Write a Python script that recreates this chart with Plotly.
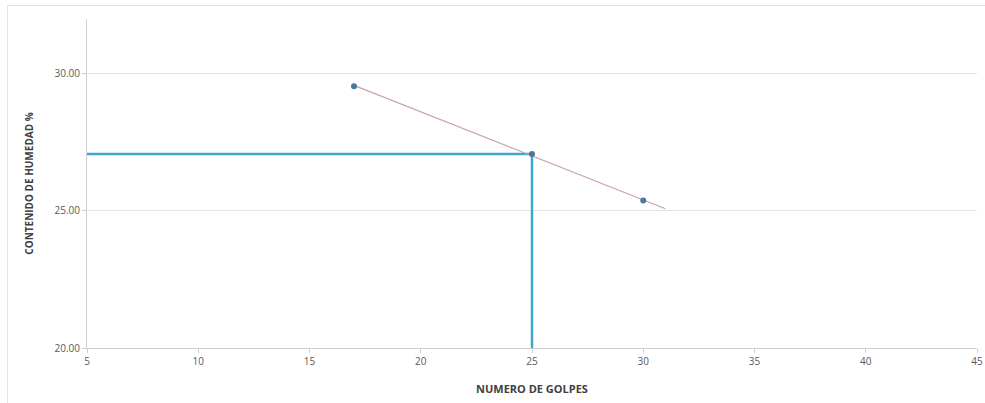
import plotly.graph_objects as go

golpes = [17, 25, 30]
humedad = [29.55, 27.08, 25.38]

trend_x = [17, 31]
trend_y = [29.58, 25.08]

ref_golpes = 25
ref_humedad = 27.08

x_ticks = [5, 10, 15, 20, 25, 30, 35, 40, 45]
y_ticks = [20, 25, 30]

fig = go.Figure()

fig.add_trace(go.Scatter(x=[x_ticks[0], ref_golpes], y=[ref_humedad, ref_humedad], mode="lines",
                         line=dict(color="#3ea6cc", width=2.5), hoverinfo="skip", showlegend=False))
fig.add_trace(go.Scatter(x=[ref_golpes, ref_golpes], y=[y_ticks[0], ref_humedad], mode="lines",
                         line=dict(color="#3ea6cc", width=2.5), hoverinfo="skip", showlegend=False))
fig.add_trace(go.Scatter(x=trend_x, y=trend_y, mode="lines",
                         line=dict(color="#c9a3a8", width=1.2), showlegend=False))
fig.add_trace(go.Scatter(x=golpes, y=humedad, mode="markers",
                         marker=dict(color="#4a78a0", size=6), showlegend=False))

W, H = 985, 403
L, R, T, B = 87, 8, 19, 55
pw, ph = W - L - R, H - T - B

fig.update_layout(
    width=W, height=H,
    margin=dict(l=L, r=R, t=T, b=B),
    paper_bgcolor="white", plot_bgcolor="white",
    font=dict(family="Open Sans", color="#595959", size=10),
    shapes=[
        dict(type="line", xref="paper", yref="paper", x0=(7.5 - L) / pw, x1=(7.5 - L) / pw,
             y0=-B / ph, y1=1 + (T - 5) / ph, line=dict(color="#e3e3e3", width=1)),
        dict(type="line", xref="paper", yref="paper", x0=(7 - L) / pw, x1=1 + R / pw,
             y0=1 + (T - 5.5) / ph, y1=1 + (T - 5.5) / ph, line=dict(color="#e3e3e3", width=1)),
    ],
)
fig.update_xaxes(range=[5, 45], tickvals=x_ticks, showgrid=False, showline=True,
                 linecolor="#d0d0d0", linewidth=1, ticks="outside", ticklen=4, tickcolor="#d0d0d0",
                 zeroline=False, automargin="bottom",
                 title=dict(text="<b>NUMERO DE GOLPES</b>", font=dict(size=11, color="#404040"), standoff=18))
fig.update_yaxes(range=[20, 32], tickvals=y_ticks, tickformat=".2f", showgrid=True,
                 gridcolor="#e4e4e4", showline=True, linecolor="#d0d0d0", linewidth=1,
                 ticks="outside", ticklen=4, tickcolor="#d0d0d0", zeroline=False, automargin="left",
                 title=dict(text="<b>CONTENIDO DE HUMEDAD %</b>", font=dict(size=10, color="#404040"), standoff=19))

fig.write_html("out.html", config={"displayModeBar": False},
               post_script="document.body.style.margin='0';document.body.style.overflow='hidden';")
